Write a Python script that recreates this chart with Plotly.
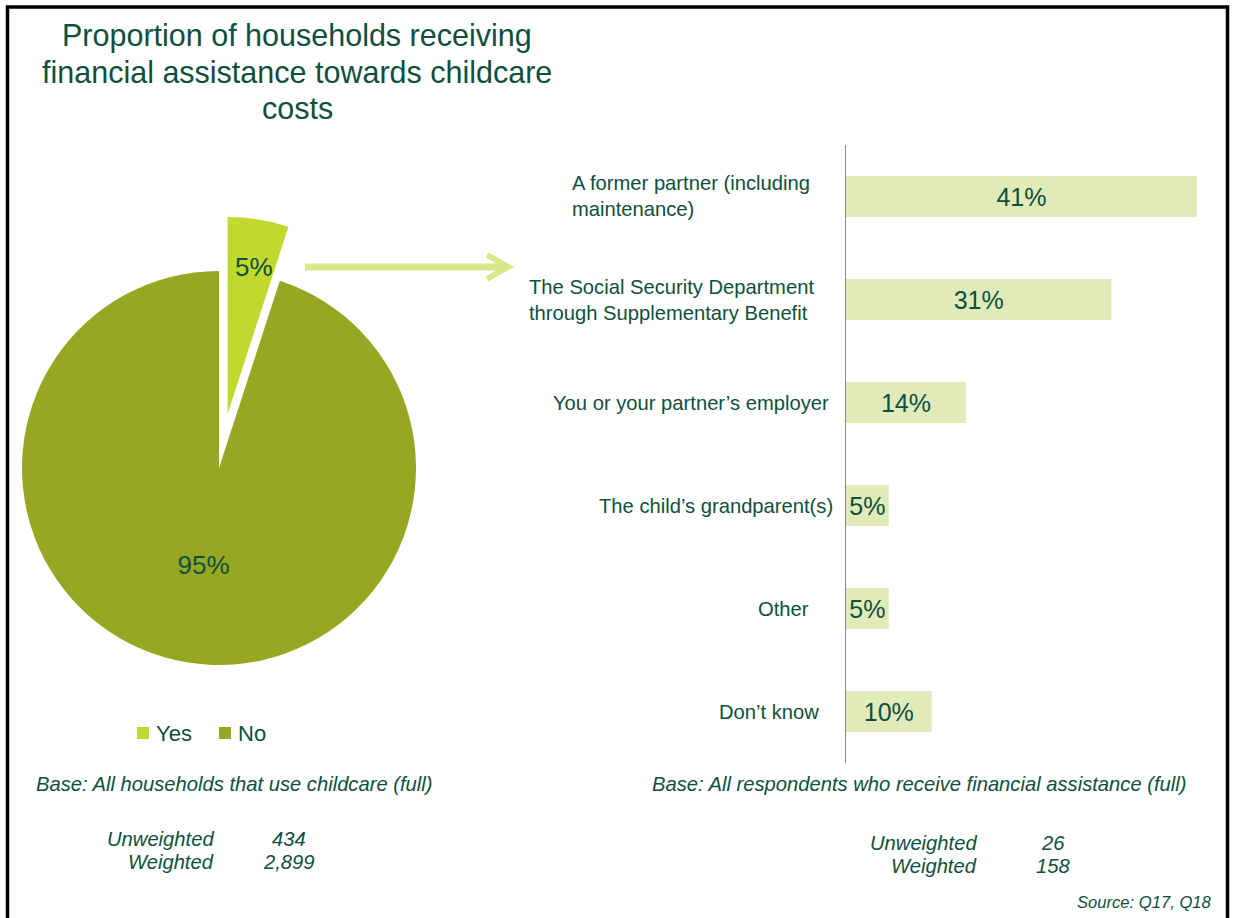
import plotly.graph_objects as go

W, H = 1234, 918

# ---- data -------------------------------------------------------------
pie_labels = ["Yes", "No"]
pie_values = [5, 95]

categories = [
    "A former partner (including maintenance)",
    "The Social Security Department through Supplementary Benefit",
    "You or your partner\u2019s employer",
    "The child\u2019s grandparent(s)",
    "Other",
    "Don\u2019t know",
]
category_text = [
    "A former partner (including<br>maintenance)",
    "The Social Security Department<br>through Supplementary Benefit",
    "You or your partner\u2019s employer",
    "The child\u2019s grandparent(s)",
    "Other",
    "Don\u2019t know",
]
shares = [41, 31, 14, 5, 5, 10]

base_left = "Base: All households that use childcare (full)"
base_right = "Base: All respondents who receive financial assistance (full)"
base_left_counts = [("Unweighted", "434"), ("Weighted", "2,899")]
base_right_counts = [("Unweighted", "26"), ("Weighted", "158")]
title_lines = [
    "Proportion of households receiving",
    "financial assistance towards childcare",
    "costs",
]
source_note = "Source: Q17, Q18"

# ---- styling ----------------------------------------------------------
TEXT = "#0e4f3d"
YES = "#c1d82f"
NO = "#96a722"
BAR = "#e1ebba"
ARROW = "#d7e88b"
FONT = "Arial, Liberation Sans, sans-serif"
label_left_px = [570, 527, 551, 597, 756, 717]


def px(x):
    return x / W


def py(y):
    return 1 - y / H


def box(cx, cy, r):
    return dict(x=[px(cx - r), px(cx + r)], y=[py(cy + r), py(cy - r)])


R = 197
fig = go.Figure()

# main pie: the "No" slice, with the "Yes" wedge left empty
fig.add_trace(go.Pie(
    labels=pie_labels, values=pie_values, sort=False, direction="clockwise",
    rotation=0, domain=box(219, 468, R),
    marker=dict(colors=["rgba(0,0,0,0)", NO], line=dict(width=0)),
    texttemplate=["", "%{value}%"], textposition="inside",
    insidetextorientation="horizontal",
    textfont=dict(size=26, color=TEXT, family=FONT),
    showlegend=False, hoverinfo="label+percent",
))
# exploded "Yes" wedge (its label is placed separately below)
fig.add_trace(go.Pie(
    labels=pie_labels, values=pie_values, sort=False, direction="clockwise",
    rotation=0, domain=box(227.6, 414, R),
    marker=dict(colors=[YES, "rgba(0,0,0,0)"], line=dict(width=0)),
    textinfo="none",
    showlegend=False, hoverinfo="label+percent",
))

# horizontal bars
fig.add_trace(go.Bar(
    x=shares, y=categories, orientation="h", width=0.4,
    marker=dict(color=BAR, line=dict(width=0)),
    texttemplate="%{x}%", textposition="inside", insidetextanchor="middle",
    constraintext="none",
    textfont=dict(size=25, color=TEXT, family=FONT),
    showlegend=False, hoverinfo="x+y",
))

annotations = []
# label of the exploded wedge
annotations.append(dict(
    text=f"{pie_values[0]}%", x=px(254), y=py(267), xref="paper", yref="paper",
    xanchor="center", yanchor="middle", showarrow=False,
    font=dict(size=26, color=TEXT, family=FONT)))

# title
for i, line in enumerate(title_lines):
    annotations.append(dict(
        text=line, x=px(297), y=py(35 + 36.5 * i), xref="paper", yref="paper",
        xanchor="center", yanchor="middle", showarrow=False,
        font=dict(size=30.5, color=TEXT, family=FONT)))

# category labels
for cat, txt, lx in zip(categories, category_text, label_left_px):
    annotations.append(dict(
        text=txt, x=px(lx), y=cat, xref="paper", yref="y",
        xanchor="left", yanchor="middle", align="left", showarrow=False,
        font=dict(size=20.2, color=TEXT, family=FONT)))

# legend (manual)
shapes = []
for (lab, col, sx) in [("Yes", YES, 137), ("No", NO, 219)]:
    shapes.append(dict(type="rect", xref="paper", yref="paper",
                       x0=px(sx), x1=px(sx + 12), y0=py(739), y1=py(727),
                       fillcolor=col, line=dict(width=0)))
    annotations.append(dict(
        text=lab, x=px(sx + 17), y=py(733), xref="paper", yref="paper",
        xanchor="left", yanchor="middle", showarrow=False,
        font=dict(size=22, color=TEXT, family=FONT)))

# base notes
ital = dict(size=20.2, color=TEXT, family=FONT, style="italic")
annotations.append(dict(text=base_left, x=px(34), y=py(784), xref="paper", yref="paper",
                        xanchor="left", yanchor="middle", showarrow=False, font=ital))
annotations.append(dict(text=base_right, x=px(919), y=py(784), xref="paper", yref="paper",
                        xanchor="center", yanchor="middle", showarrow=False, font=ital))
for (name, n), yy in zip(base_left_counts, [839, 862]):
    annotations.append(dict(text=name, x=px(216), y=py(yy), xref="paper", yref="paper",
                            xanchor="right", yanchor="middle", showarrow=False, font=ital))
    annotations.append(dict(text=n, x=px(289), y=py(yy), xref="paper", yref="paper",
                            xanchor="center", yanchor="middle", showarrow=False, font=ital))
for (name, n), yy in zip(base_right_counts, [843, 866]):
    annotations.append(dict(text=name, x=px(979), y=py(yy), xref="paper", yref="paper",
                            xanchor="right", yanchor="middle", showarrow=False, font=ital))
    annotations.append(dict(text=n, x=px(1053), y=py(yy), xref="paper", yref="paper",
                            xanchor="center", yanchor="middle", showarrow=False, font=ital))
annotations.append(dict(text=source_note, x=px(1214), y=py(902), xref="paper", yref="paper",
                        xanchor="right", yanchor="middle", showarrow=False,
                        font=dict(size=16.6, color=TEXT, family=FONT, style="italic")))

# arrow from the exploded wedge to the bar chart
shapes.append(dict(type="line", xref="paper", yref="paper",
                   x0=px(305), x1=px(506), y0=py(267), y1=py(267),
                   line=dict(color=ARROW, width=7)))
shapes.append(dict(type="path", xref="paper", yref="paper",
                   path=f"M {px(487)} {py(255)} L {px(508)} {py(267)} L {px(487)} {py(279)}",
                   line=dict(color=ARROW, width=6)))

# outer frame
shapes.append(dict(type="rect", xref="paper", yref="paper",
                   x0=px(7.5), x1=px(1227.5), y0=py(940), y1=py(7),
                   line=dict(color="black", width=3.5), fillcolor="rgba(0,0,0,0)"))

fig.update_layout(
    width=W, height=H, margin=dict(l=0, r=0, t=0, b=0),
    paper_bgcolor="white", plot_bgcolor="white",
    font=dict(family=FONT, color=TEXT),
    xaxis=dict(domain=[px(846), px(846 + 8.56 * 45)], range=[0, 45], visible=False,
               fixedrange=True),
    yaxis=dict(domain=[py(763), py(145)], range=[5.5, -0.5], type="category",
               categoryorder="array", categoryarray=categories,
               showticklabels=False, ticks="", showgrid=False, zeroline=False,
               showline=True, linecolor="#8a8a8a", linewidth=1, fixedrange=True),
    annotations=annotations, shapes=shapes, bargap=0.6,
)

fig.write_html("out.html")
